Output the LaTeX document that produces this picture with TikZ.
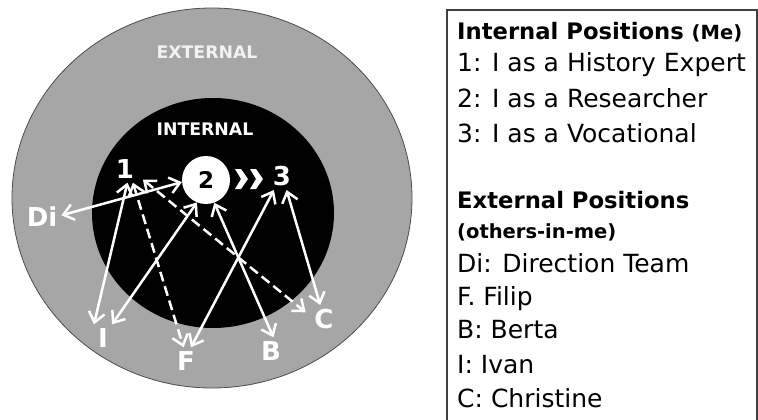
\documentclass[tikz,border=0pt]{standalone}
\usepackage{fontspec}
\setmainfont{DejaVu Sans}
\usetikzlibrary{positioning, arrows.meta}
\definecolor{outergray}{HTML}{A6A6A6}

\begin{document}
\begin{tikzpicture}[x=1pt, y=-1pt,
    lbl/.style={text=white, font=\bfseries\fontsize{26}{26}\selectfont, inner sep=4pt},
    link/.style={white, line width=2.5pt, {Straight Barb[length=10pt,width=16pt]}-{Straight Barb[length=10pt,width=16pt]}},
    dlink/.style={link, dash pattern=on 10pt off 5pt},
    item/.style={anchor=base west, inner sep=0pt, font=\fontsize{25}{25}\selectfont},
    head/.style={item, font=\bfseries\fontsize{22.7}{25}\selectfont},
    small/.style={font=\bfseries\fontsize{19.5}{20}\selectfont}]
  \useasboundingbox (0,0) rectangle (758,420);

  % the two circles
  \filldraw[fill=outergray, draw=black!70, line width=0.8pt] (212,198) ellipse (200 and 190);
  \fill[black] (213,213) ellipse (121 and 115);
  \node[text=black!5, font=\bfseries\fontsize{17.3}{18}\selectfont] (ext) at (207,52) {EXTERNAL};
  \node[text=white, font=\bfseries\fontsize{17.3}{18}\selectfont] (int) at (205,129) {INTERNAL};

  % internal positions
  \node[lbl] (n1) at (125,169) {1};
  \node[circle, fill=white, minimum size=48pt, inner sep=0pt, font=\bfseries\fontsize{23}{23}\selectfont] (n2) at (206,180) {2};
  \node[lbl] (n3) at (282,176) {3};
  \foreach \dx in {0,15}
    \fill[white, xshift=\dx] (235,169) -- (241,169) -- (248,179) -- (241,189) -- (235,189) -- (241,179) -- cycle;

  % external positions
  \node[lbl] (di) at (42,217) {Di};
  \node[lbl] (i) at (103,338) {I};
  \node[lbl] (f) at (186,361) {F};
  \node[lbl] (b) at (271,351) {B};
  \node[lbl] (c) at (324,319) {C};

  \draw[link] (di.5) -- (n2.185);
  \draw[link] (i.north west) -- (n1.-80);
  \draw[link] (i.north east) -- (n2.-112);
  \draw[dlink] (n1.-60) -- (f.100);
  \draw[dlink, shorten <=6pt, shorten >=6pt] (n1.-27) -- (c.168);
  \draw[link] (n2.-70) -- (b.80);
  \draw[link] (f.70) -- (n3.-120);
  \draw[link] (n3.-72) -- (c.105);

  % legend
  \draw[black!75, line width=1.2pt] (447,421) -- (447,10) -- (757,10) -- (757,421);
  \node[head] (h1) at (457,40) {Internal Positions {\fontsize{19.5}{20}\selectfont(Me)}};
  \node[item] (p1) at (457,72) {1: I as a History Expert};
  \node[item] (p2) at (457,107) {2: I as a Researcher};
  \node[item] (p3) at (457,142) {3: I as a Vocational};
  \node[head] (h2) at (457,208) {External Positions};
  \node[item, small] (h3) at (457,238) {(others-in-me)};
  \node[item] (q1) at (457,272) {Di: Direction Team};
  \node[item] (q2) at (457,305) {F. Filip};
  \node[item] (q3) at (457,338) {B: Berta};
  \node[item] (q4) at (457,373) {I: Ivan};
  \node[item] (q5) at (457,407) {C: Christine};
\end{tikzpicture}
\end{document}
